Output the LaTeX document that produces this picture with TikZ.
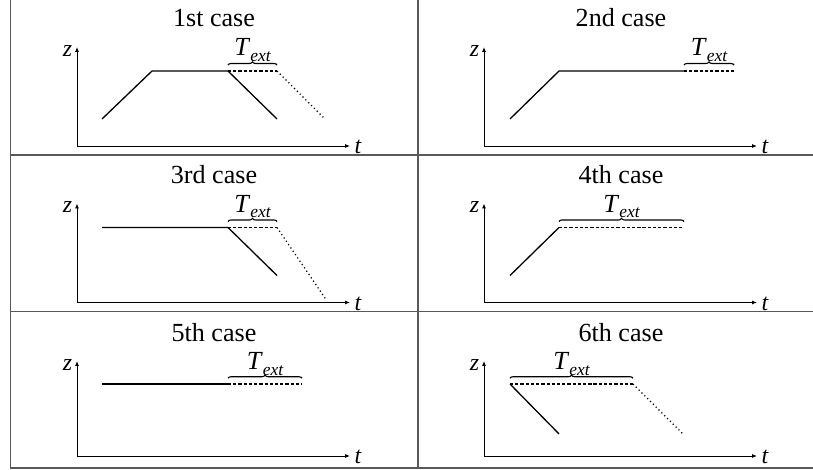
\documentclass[tikz,border=0pt]{standalone}
\usepackage{fontspec}
\setmainfont{Liberation Serif}
\usetikzlibrary{arrows.meta,decorations.pathreplacing}
\newcommand\extlabel{\textit{T}\raisebox{-0.5ex}{\fontsize{8}{9}\selectfont\itshape ext}}
\newcommand\caseaxes[2]{%
  \coordinate (o#1) at (0,0);
  \coordinate (ztop#1) at (0,99);
  \coordinate (tend#1) at (273,0);
  \draw[axis] (o#1) -- (ztop#1);
  \draw[axis] (o#1) -- (tend#1);
  \node[lab] (z#1) at (-9.5,95) {z};
  \node[lab] (t#1) at (281,-1) {t};
  \node[title] (title#1) at (137,119.5) {#2};
}
\begin{document}
\begin{tikzpicture}[x=0.46pt,y=0.46pt,
  rule/.style={draw=black!65,line width=0.9pt},
  axis/.style={line width=0.45pt,-{Latex[length=2.2pt,width=1.8pt]}},
  curve/.style={line width=0.6pt},
  ext/.style={line width=0.55pt,dash pattern=on 1.5pt off 0.9pt},
  extdot/.style={line width=0.55pt,dash pattern=on 0.55pt off 1.3pt},
  brc/.style={line width=0.5pt,decorate,decoration={brace,amplitude=1.4pt}},
  title/.style={font=\fontsize{12}{14}\selectfont,inner sep=0pt,anchor=base},
  lab/.style={font=\fontsize{11}{13}\selectfont\itshape,inner sep=0pt},
  extl/.style={font=\fontsize{12}{14}\selectfont,inner sep=0pt,anchor=base}]
\useasboundingbox (0,0) rectangle (813,469);
% table rules
\draw[rule] (10.5,475) -- (10.5,1) -- (830,1);
\draw[rule] (418,475) -- (418,1);
\draw[rule] (10.5,314) -- (830,314);
\draw[rule] (10.5,157.5) -- (830,157.5);
% case 1
\begin{scope}[shift={(77,323)}]
  \caseaxes{1}{1st case}
  \draw[curve] (25,27) -- (75,75) -- (151,75) -- (200,27);
  \draw[ext] (151,75) -- (200,75);
  \draw[extdot] (200,75) -- (248,27);
  \draw[brc] (151,81) -- (200,81);
  \node[extl] (e1) at (175.5,90.5) {\extlabel};
\end{scope}
% case 2
\begin{scope}[shift={(484,323)}]
  \caseaxes{2}{2nd case}
  \draw[curve] (26,27) -- (75,75) -- (200,75);
  \draw[ext] (200,75) -- (250,75);
  \draw[brc] (200,81) -- (250,81);
  \node[extl] (e2) at (225,90.5) {\extlabel};
\end{scope}
% case 3
\begin{scope}[shift={(77,166.5)}]
  \caseaxes{3}{3rd case}
  \draw[curve] (25,75) -- (151,75) -- (200,27);
  \draw[ext] (151,75) -- (200,75);
  \draw[extdot] (200,75) -- (249,3);
  \draw[brc] (151,81) -- (200,81);
  \node[extl] (e3) at (175.5,90.5) {\extlabel};
\end{scope}
% case 4
\begin{scope}[shift={(484,166.5)}]
  \caseaxes{4}{4th case}
  \draw[curve] (26,27) -- (75,75);
  \draw[ext] (75,75) -- (200,75);
  \draw[brc] (75,81) -- (200,81);
  \node[extl] (e4) at (137.5,90.5) {\extlabel};
\end{scope}
% case 5
\begin{scope}[shift={(77,13)},yscale=0.96]
  \caseaxes{5}{5th case}
  \draw[curve] (25,75) -- (151,75);
  \draw[ext] (151,75) -- (225,75);
  \draw[brc] (151,81) -- (225,81);
  \node[extl] (e5) at (188,90.5) {\extlabel};
\end{scope}
% case 6
\begin{scope}[shift={(484,13)},yscale=0.96]
  \caseaxes{6}{6th case}
  \draw[curve] (26,75) -- (75,23);
  \draw[ext] (26,75) -- (149,75);
  \draw[extdot] (149,75) -- (199,23);
  \draw[brc] (26,81) -- (149,81);
  \node[extl] (e6) at (87.5,90.5) {\extlabel};
\end{scope}
\end{tikzpicture}
\end{document}
